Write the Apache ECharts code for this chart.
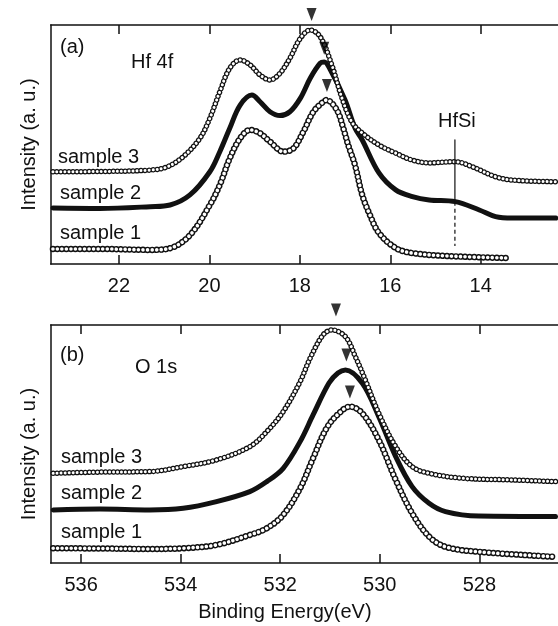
<!DOCTYPE html>
<html>
<head>
<meta charset="utf-8">
<script src="https://cdn.jsdelivr.net/npm/echarts@6/dist/echarts.min.js"></script>
<style>html,body{margin:0;padding:0;background:#fff}#c{width:558px;height:626px}</style>
</head>
<body>
<div id="c"></div>
<script>
// ---- data (binding energy eV, intensity a.u.) ----
const hfRange = [12.29, 23.51];
const oRange = [526.42, 536.61];
const hfTicks = [14, 16, 18, 20, 22];
const oTicks = [528, 530, 532, 534, 536];

const hfSample1 = [[23.46,6.3],[22.42,6.3],[21.31,5.9],[20.87,6.6],[20.43,12.1],[19.99,24.7],[19.77,33.1],[19.55,44.2],[19.32,52.6],[19.10,56.1],[18.88,54.7],[18.66,51.2],[18.36,47.0],[18.14,48.4],[17.92,55.4],[17.70,63.7],[17.48,67.9],[17.41,68.6],[17.18,64.4],[17.04,56.9],[16.93,49.8],[16.78,41.4],[16.62,28.9],[16.45,20.5],[16.25,13.0],[15.88,6.7],[15.52,4.6],[14.68,3.3],[13.44,2.5]];
const hfSample2 = [[23.46,23.4],[22.42,23.2],[21.31,24.0],[20.87,24.7],[20.43,28.9],[19.99,38.6],[19.77,47.0],[19.55,56.8],[19.32,66.5],[19.06,70.7],[18.88,67.9],[18.66,63.7],[18.44,62.1],[18.22,63.7],[17.99,69.3],[17.77,77.7],[17.55,84.0],[17.46,84.5],[17.33,81.5],[17.00,68.6],[16.78,56.9],[16.62,51.9],[16.25,38.1],[15.88,31.0],[15.51,28.2],[15.14,26.8],[14.56,26.1],[14.03,22.6],[13.67,19.8],[13.30,19.2],[12.34,19.2]];
const hfSample3 = [[23.46,38.6],[22.42,38.7],[21.31,39.3],[20.94,40.6],[20.58,44.9],[20.21,52.6],[19.99,61.0],[19.77,72.1],[19.55,81.9],[19.32,85.4],[19.10,83.3],[18.88,79.1],[18.66,77.0],[18.44,79.8],[18.22,86.1],[17.99,94.4],[17.77,97.9],[17.55,95.1],[17.30,83.7],[17.07,69.5],[16.85,59.4],[16.62,54.8],[16.25,49.8],[15.88,46.4],[15.52,43.5],[15.14,42.3],[14.56,42.8],[14.19,40.7],[13.67,36.5],[13.30,35.1],[12.34,34.4]];

const oSample1 = [[536.56,6.2],[535.62,6.1],[534.62,5.9],[533.95,6.2],[533.28,7.6],[532.61,11.8],[532.27,14.6],[531.94,20.2],[531.60,31.4],[531.34,44.0],[531.07,56.6],[530.82,62.9],[530.60,65.7],[530.35,62.9],[530.02,51.7],[529.68,34.9],[529.35,20.9],[529.01,11.1],[528.68,6.8],[528.01,4.7],[526.47,2.6]];
const oSample2 = [[536.56,22.3],[535.62,22.7],[534.62,22.3],[533.95,23.0],[533.28,25.8],[532.61,30.0],[532.27,34.2],[531.94,39.8],[531.60,51.0],[531.34,62.2],[531.02,75.6],[530.84,79.8],[530.69,81.1],[530.35,75.5],[530.02,61.5],[529.68,44.7],[529.35,32.1],[529.01,25.1],[528.68,21.6],[528.01,19.7],[526.47,19.5]];
const oSample3 = [[536.56,37.7],[535.62,38.2],[534.62,38.4],[533.95,40.5],[533.28,43.3],[532.61,48.9],[532.27,55.2],[531.94,63.6],[531.60,76.2],[531.40,86.0],[531.14,95.8],[530.96,97.9],[530.69,95.1],[530.49,86.7],[530.29,76.9],[530.02,62.9],[529.68,48.9],[529.35,40.5],[529.01,37.7],[528.34,35.6],[527.34,34.9],[526.47,34.2]];

const hfPeakMarks = [[17.74,104.4],[17.46,90.3],[17.40,74.7]];
const oPeakMarks = [[530.88,106.3],[530.67,87.4],[530.60,71.8]];
const hfSiSolid = [[14.57,51.9],[14.57,26.0]];
const hfSiDashed = [[14.57,26.0],[14.57,7.5]];

// ---- chart ----
const FONT = '"Liberation Sans", Arial, sans-serif';
const INK = '#111';
const chart = echarts.init(document.getElementById('c'), null, {renderer: 'canvas'});

function xAx(grid, range, ticks, pos, showLabels, name) {
  const a = {
    type: 'value', gridIndex: grid, position: pos, min: range[0], max: range[1], inverse: true,
    axisLine: {show: true, onZero: false, lineStyle: {color: INK, width: 1.5}},
    axisTick: {show: true, inside: true, length: 9, customValues: ticks, lineStyle: {color: INK, width: 1.5}},
    axisLabel: {show: showLabels, customValues: ticks, fontSize: 20, color: INK, margin: 12, fontFamily: FONT},
    splitLine: {show: false}
  };
  if (name) {
    a.name = name; a.nameLocation = 'middle'; a.nameGap = 39;
    a.nameTextStyle = {fontSize: 20, color: INK, fontFamily: FONT, padding: [0, 39, 0, 0]};
  }
  return a;
}
function yAx(grid, pad) {
  return {
    type: 'value', gridIndex: grid, min: 0, max: 100,
    axisLine: {show: true, lineStyle: {color: INK, width: 1.5}},
    axisTick: {show: false}, axisLabel: {show: false}, splitLine: {show: false},
    name: 'Intensity (a. u.)', nameLocation: 'middle', nameGap: 11,
    nameTextStyle: {fontSize: 20, color: INK, fontFamily: FONT, padding: pad}
  };
}
function openChain(data, xi, yi, outer, inner, step) {
  const base = {type: 'line', xAxisIndex: xi, yAxisIndex: yi, data: data, smooth: 0.35, showSymbol: false, silent: true, animation: false};
  return [
    Object.assign({}, base, {lineStyle: {color: INK, width: outer, type: [0.01, step], cap: 'round'}}),
    Object.assign({}, base, {lineStyle: {color: '#fff', width: inner, type: [0.01, step], cap: 'round'}})
  ];
}
function solid(data, xi, yi, w) {
  return {type: 'line', xAxisIndex: xi, yAxisIndex: yi, data: data, smooth: 0.35, showSymbol: false, silent: true, animation: false,
    lineStyle: {color: INK, width: w, cap: 'round', join: 'round'}};
}
function marks(data, xi, yi) {
  return {type: 'scatter', xAxisIndex: xi, yAxisIndex: yi, data: data, clip: false, symbol: 'triangle', symbolRotate: 180,
    symbolSize: [10, 13], itemStyle: {color: '#000'}, z: 10, silent: true, animation: false};
}
function txt(text, x, y) {
  return {type: 'text', x: x, y: y, silent: true,
    style: {text: text, fill: INK, font: '20px ' + FONT, verticalAlign: 'middle', textVerticalAlign: 'middle'}};
}

const option = {
  backgroundColor: '#fff',
  animation: false,
  grid: [
    {left: 50.7, right: 0, top: 25, height: 239},
    {left: 50.7, right: 0, top: 325, height: 238}
  ],
  xAxis: [
    xAx(0, hfRange, hfTicks, 'bottom', true),
    xAx(0, hfRange, hfTicks, 'top', false),
    xAx(1, oRange, oTicks, 'bottom', true, 'Binding Energy(eV)'),
    xAx(1, oRange, oTicks, 'top', false)
  ],
  yAxis: [yAx(0, [0, 0, 0, 0]), yAx(1, [0, 20, 0, 0])],
  series: [].concat(
    openChain(hfSample1, 0, 0, 6.5, 3.6, 4.5),
    [solid(hfSample2, 0, 0, 5)],
    openChain(hfSample3, 0, 0, 5.5, 3, 4),
    [solid(hfSiSolid, 0, 0, 1.2),
     {type: 'line', xAxisIndex: 0, yAxisIndex: 0, data: hfSiDashed, showSymbol: false, silent: true,
      lineStyle: {color: INK, width: 1.2, type: [4, 3]}},
     marks(hfPeakMarks, 0, 0)],
    openChain(oSample1, 2, 1, 6.5, 3.6, 4.5),
    [solid(oSample2, 2, 1, 5)],
    openChain(oSample3, 2, 1, 5.5, 3, 4),
    [marks(oPeakMarks, 2, 1)]
  ),
  graphic: [
    txt('(a)', 60, 47), txt('Hf 4f', 131, 62),
    txt('sample 3', 58, 157), txt('sample 2', 60, 193), txt('sample 1', 60, 233),
    txt('HfSi', 438, 121),
    txt('(b)', 60, 355), txt('O 1s', 135, 367),
    txt('sample 3', 61, 457), txt('sample 2', 61, 493), txt('sample 1', 61, 532)
  ]
};
chart.setOption(option);
</script>
</body>
</html>
